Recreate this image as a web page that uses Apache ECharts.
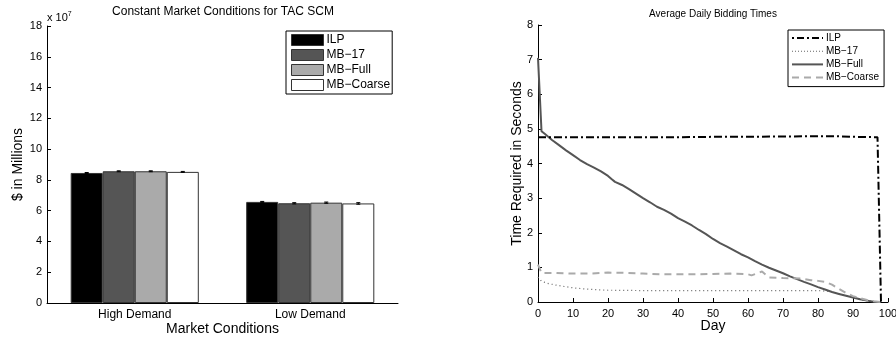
<!DOCTYPE html>
<html><head><meta charset="utf-8">
<script src="https://cdn.jsdelivr.net/npm/echarts@6/dist/echarts.min.js"></script>
<style>html,body{margin:0;padding:0;background:#fff}#c{width:896px;height:338px}</style>
</head><body><div id="c"></div>
<script>
// ---- Left chart data (values in units of 10^7 dollars) ----
const barCategories = ['High Demand', 'Low Demand'];
const barSeriesNames = ['ILP', 'MB\u221217', 'MB\u2212Full', 'MB\u2212Coarse'];
const ilpBars = [8.45, 6.57];
const mb17Bars = [8.56, 6.48];
const mbFullBars = [8.56, 6.52];
const mbCoarseBars = [8.52, 6.47];
const barErrors = [[0.03, 0.03], [0.03, 0.04], [0.03, 0.04], [0.03, 0.05]];
const barYTicks = [0, 2, 4, 6, 8, 10, 12, 14, 16, 18];

// ---- Right chart data (seconds per day) ----
const ilpDays = [0, 10, 20, 30, 40, 50, 60, 70, 80, 85, 90, 97, 98];
const ilpTimes = [4.76, 4.76, 4.76, 4.76, 4.76, 4.77, 4.77, 4.78, 4.79, 4.79, 4.77, 4.76, 0];
const mb17Days = [0, 1, 3, 5, 8, 10, 13, 16, 20, 30, 40, 50, 60, 70, 80, 84, 86, 88, 90, 92, 94, 96, 98];
const mb17Times = [0.72, 0.60, 0.53, 0.49, 0.44, 0.41, 0.38, 0.36, 0.34, 0.33, 0.33, 0.33, 0.33, 0.33, 0.33, 0.30, 0.24, 0.18, 0.13, 0.08, 0.04, 0.01, 0];
const mbFullDays = [0, 1, 2, 4, 6, 8, 10, 12, 14, 16, 18, 20, 21, 22, 24, 26, 28, 30, 32, 34, 36, 38, 40, 42, 44, 46, 48, 50, 52, 54, 56, 58, 60, 62, 64, 66, 68, 70, 72, 74, 76, 78, 80, 82, 84, 86, 88, 90, 92, 94, 96, 98];
const mbFullTimes = [7.05, 4.93, 4.85, 4.68, 4.53, 4.38, 4.24, 4.10, 3.98, 3.88, 3.77, 3.64, 3.55, 3.47, 3.38, 3.26, 3.13, 3.00, 2.88, 2.75, 2.66, 2.55, 2.42, 2.32, 2.21, 2.08, 1.96, 1.82, 1.70, 1.60, 1.49, 1.38, 1.29, 1.18, 1.08, 0.99, 0.91, 0.83, 0.74, 0.66, 0.58, 0.51, 0.43, 0.36, 0.29, 0.23, 0.18, 0.13, 0.08, 0.04, 0.01, 0];
const mbCoarseDays = [0, 1, 5, 10, 15, 20, 25, 30, 35, 40, 45, 50, 55, 60, 61, 63, 64, 66, 70, 75, 78, 80, 82, 84, 86, 88, 90, 92, 94, 96, 98];
const mbCoarseTimes = [1.08, 0.84, 0.84, 0.82, 0.82, 0.85, 0.84, 0.82, 0.80, 0.80, 0.80, 0.81, 0.82, 0.80, 0.77, 0.84, 0.88, 0.71, 0.69, 0.68, 0.63, 0.61, 0.58, 0.50, 0.38, 0.26, 0.17, 0.11, 0.06, 0.02, 0];

const FONT = 'Liberation Sans';
const barValues = [ilpBars, mb17Bars, mbFullBars, mbCoarseBars];
const barColors = ['#000000', '#555555', '#aaaaaa', '#ffffff'];
const zip = (xs, ys) => xs.map((x, i) => [x, ys[i]]);

// legend line samples (31px wide) drawn as small filled paths
function rects(list, h) { return 'path://' + list.map(r => 'M' + r[0] + ',0 L' + r[1] + ',0 L' + r[1] + ',' + h + ' L' + r[0] + ',' + h + ' Z').join(' '); }
const iconDashDot = rects([[0, 2], [5, 12], [15, 17], [20, 27], [30, 31]], 2);
const iconDots = rects([[0, 1], [3, 4], [6, 7], [9, 10], [12, 13], [15, 16], [18, 19], [21, 22], [24, 25], [27, 28], [30, 31]], 1);
const iconSolid = rects([[0, 31]], 2);
const iconDash = rects([[0, 7], [12, 19], [24, 31]], 2);

const axisCommon = {
  axisLine: { show: true, lineStyle: { color: '#000', width: 1 } },
  axisTick: { show: true, inside: true, length: 4, lineStyle: { color: '#000' } },
  axisLabel: { color: '#000', fontSize: 11, fontFamily: FONT, margin: 5 },
  splitLine: { show: false },
  nameMoveOverlap: false,
  nameTextStyle: { color: '#000', fontSize: 14, fontFamily: FONT }
};

const barSeries = barSeriesNames.map((n, i) => ({
  name: n, type: 'bar', xAxisIndex: 0, yAxisIndex: 0,
  data: barValues[i],
  barGap: '0%', barCategoryGap: '27%',
  itemStyle: { color: barColors[i], borderColor: '#333', borderWidth: 1 },
  emphasis: { disabled: true }
}));

const errSeries = {
  type: 'custom', xAxisIndex: 0, yAxisIndex: 0, silent: true, z: 5,
  data: barCategories.flatMap((c, ci) => barSeriesNames.map((n, si) => [ci, barValues[si][ci], barErrors[si][ci], si])),
  renderItem: function (params, api) {
    const ci = api.value(0), v = api.value(1), e = api.value(2), si = api.value(3);
    const band = api.size([1, 0])[0];
    const group = band * 0.73, bw = group / 4;
    const c = api.coord([ci, v]);
    const x = c[0] - group / 2 + (si + 0.5) * bw;
    const top = api.coord([ci, v + e])[1], bot = api.coord([ci, v - e])[1];
    const st = { stroke: '#000', lineWidth: 1 };
    return { type: 'group', children: [
      { type: 'line', shape: { x1: x, y1: top, x2: x, y2: bot }, style: st },
      { type: 'line', shape: { x1: x - 2, y1: top, x2: x + 2, y2: top }, style: st },
      { type: 'line', shape: { x1: x - 2, y1: bot, x2: x + 2, y2: bot }, style: st }
    ]};
  }
};

const lineSeries = [
  { name: 'ILP', data: zip(ilpDays, ilpTimes), lineStyle: { color: '#000', width: 2, type: [8, 3, 2, 3] }, icon: iconDashDot },
  { name: 'MB\u221217', data: zip(mb17Days, mb17Times), lineStyle: { color: '#666', width: 1.2, type: [1, 3] }, icon: iconDots },
  { name: 'MB\u2212Full', data: zip(mbFullDays, mbFullTimes), lineStyle: { color: '#555', width: 2, type: 'solid' }, icon: iconSolid },
  { name: 'MB\u2212Coarse', data: zip(mbCoarseDays, mbCoarseTimes), lineStyle: { color: '#aaa', width: 2, type: [7, 5] }, icon: iconDash }
];
const lineSeriesOpts = lineSeries.map(s => ({
  type: 'line', xAxisIndex: 1, yAxisIndex: 1, symbol: 'none', showSymbol: false,
  name: s.name, data: s.data, lineStyle: s.lineStyle,
  itemStyle: { color: s.lineStyle.color }, emphasis: { disabled: true }, z: s.name === 'ILP' ? 3 : 2
}));

const chart = echarts.init(document.getElementById('c'), null, { renderer: 'canvas' });
chart.setOption({
  animation: false,
  backgroundColor: '#fff',
  textStyle: { fontFamily: FONT },
  title: [
    { text: 'Constant Market Conditions for TAC SCM', left: 223, top: 6, padding: 0, textAlign: 'center',
      textStyle: { fontSize: 12, fontWeight: 'normal', color: '#000', fontFamily: FONT } },
    { text: 'Average Daily Bidding Times', left: 713, top: 9, padding: 0, textAlign: 'center',
      textStyle: { fontSize: 10, fontWeight: 'normal', color: '#000', fontFamily: FONT } }
  ],
  grid: [
    { left: 47, top: 26, width: 351, height: 277, containLabel: false, outerBoundsMode: 'none' },
    { left: 538, top: 25, width: 350, height: 277, containLabel: false, outerBoundsMode: 'none' }
  ],
  legend: [
    { data: barSeriesNames, orient: 'vertical', left: 286, top: 31, itemWidth: 32, itemHeight: 11,
      itemGap: 3, padding: [3, 2, 3, 5], borderColor: '#000', borderWidth: 1, selectedMode: false,
      icon: 'rect', itemStyle: { borderColor: '#333', borderWidth: 1 },
      textStyle: { fontSize: 12, color: '#000', fontFamily: FONT, padding: [0, 0, 0, -2] } },
    { data: lineSeries.map(s => ({ name: s.name, icon: s.icon, itemStyle: { color: s.lineStyle.color, borderWidth: 0 } })),
      orient: 'vertical', left: 788, top: 30, itemWidth: 31, itemHeight: 10, symbolKeepAspect: true,
      itemGap: 3.2, padding: [3, 5, 4, 4], borderColor: '#000', borderWidth: 1, selectedMode: false,
      itemStyle: { borderWidth: 0 },
      textStyle: { fontSize: 10, color: '#000', fontFamily: FONT, padding: [0, 0, 0, -2] } }
  ],
  xAxis: [
    Object.assign({}, axisCommon, { type: 'category', gridIndex: 0, data: barCategories,
      axisTick: { show: false }, name: 'Market Conditions', nameLocation: 'middle', nameGap: 19,
      axisLabel: Object.assign({}, axisCommon.axisLabel, { fontSize: 12, margin: 6 }) }),
    Object.assign({}, axisCommon, { type: 'value', gridIndex: 1, min: 0, max: 100, interval: 10,
      axisLabel: Object.assign({}, axisCommon.axisLabel, { margin: 6 }),
      name: 'Day', nameLocation: 'middle', nameGap: 17 })
  ],
  yAxis: [
    Object.assign({}, axisCommon, { type: 'value', gridIndex: 0, min: barYTicks[0], max: barYTicks[barYTicks.length - 1], interval: 2,
      name: '$ in Millions', nameLocation: 'middle', nameGap: 22 }),
    Object.assign({}, axisCommon, { type: 'value', gridIndex: 1, min: 0, max: 8, interval: 1,
      name: 'Time Required in Seconds', nameLocation: 'middle', nameGap: 14 })
  ],
  graphic: [
    { type: 'text', left: 47, top: 11, style: { rich: {
        a: { fontSize: 11, fontFamily: FONT, fill: '#000' },
        s: { fontSize: 7, fontFamily: FONT, fill: '#000', verticalAlign: 'top', padding: [0, 0, 6, 0] } },
      text: '{a|x 10}{s|7}' } }
  ],
  series: barSeries.concat([errSeries]).concat(lineSeriesOpts)
});
</script></body></html>
